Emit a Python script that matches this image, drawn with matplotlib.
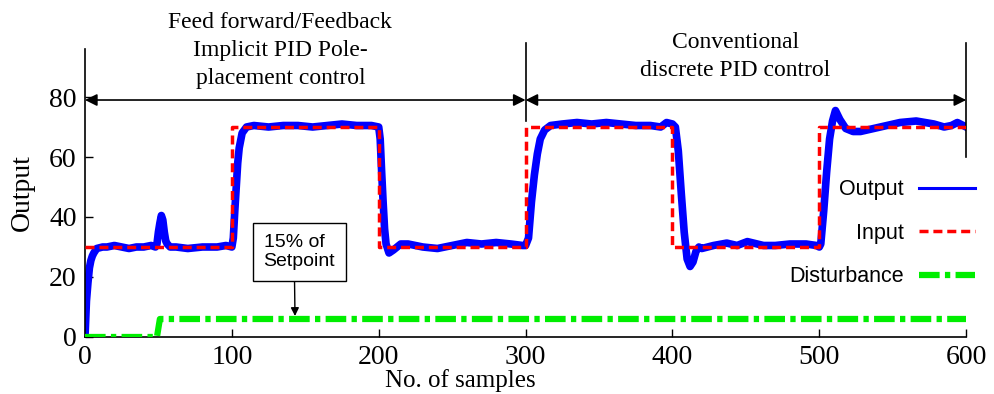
import matplotlib
matplotlib.use('Agg')
import matplotlib.pyplot as plt
from matplotlib.lines import Line2D

plt.rcParams['font.family'] = 'Liberation Serif'

# Output (sample index, value)
out_x = [0, 1, 2, 3, 4, 5, 6, 8, 12, 15, 20, 25, 30, 35, 40, 45, 48, 49, 50, 51, 52, 53, 54, 55, 56, 58,
         62, 70, 80, 90, 96, 100, 101, 102, 103, 104, 105, 107, 110, 115, 125, 135, 145, 155, 165, 175,
         185, 195, 200, 201, 202, 203, 204, 205, 207, 210, 215, 220, 230, 240, 250, 260, 270, 280, 290,
         298, 300, 302, 304, 306, 308, 310, 313, 317, 325, 335, 345, 355, 365, 375, 385, 392, 396, 400,
         402, 404, 406, 408, 410, 412, 414, 416, 418, 420, 428, 437, 444, 451, 462, 470, 480, 491, 498,
         500, 501, 503, 505, 507, 509, 511, 514, 518, 523, 528, 537, 546, 555, 566, 572, 578, 585, 590,
         594, 598, 600]
out_y = [0, 12, 18, 23, 25.5, 27, 28, 29.5, 30, 30, 30.5, 30, 29.5, 30, 30, 30.5, 30, 31, 35, 38, 40.5,
         39, 35, 32, 31, 30, 30, 29.5, 30, 30, 30.5, 30, 33, 42, 50, 58, 63, 68, 70, 70.5, 70, 70.5, 70.5,
         70, 70.5, 71, 70.5, 70.5, 70, 66, 55, 45, 36, 31, 28, 29, 31, 31, 30, 29.5, 30.5, 31.5, 31, 31.5,
         31, 30.5, 30.5, 33, 45, 54, 61, 66, 69, 70.5, 71, 71.5, 71, 71.5, 71, 70.5, 70.5, 70, 71.5, 71,
         70, 62, 48, 35, 26, 23.5, 25, 28.5, 30, 29.5, 30.5, 31.3, 30.5, 31.8, 30.5, 30.5, 31, 31, 30.5,
         30, 31, 42, 55, 66, 72, 75.5, 72.5, 69.5, 68.5, 68.5, 69.5, 70.5, 71.5, 72, 71.5, 71, 70, 70.5,
         71.5, 70.5, 70]

# Input (setpoint) steps
in_x = [0, 100, 200, 300, 400, 500, 600]
in_y = [30, 70, 30, 70, 30, 70, 70]

# Disturbance (15% of setpoint)
dist_x = [0, 49, 51, 600]
dist_y = [0, 0, 6, 6]

x_ticks = [0, 100, 200, 300, 400, 500, 600]
y_ticks = [0, 20, 40, 60, 80]

# control phases marked above the curves
phase_edges = [0, 300, 600]
phase_bar_low = [0, 72, 60]
phase_labels = ['Feed forward/Feedback\nImplicit PID Pole-\nplacement control',
                'Conventional\ndiscrete PID control']

dash_red = (0, (2.6, 1.4))
dash_green = (0, (3.3, 0.85, 0.85, 0.85))

fig, ax = plt.subplots(figsize=(9.94, 3.94), dpi=100)
fig.subplots_adjust(left=0.0855, right=0.972, bottom=0.1447, top=0.8756)

ax.plot(out_x, out_y, color='#0000ff', lw=5.5, solid_joinstyle='round', zorder=2)
ax.plot(in_x, in_y, color='#ff0000', lw=2.5, ls=dash_red, drawstyle='steps-post', zorder=3)
ax.plot(dist_x, dist_y, color='#00ee00', lw=4.5, ls=dash_green, zorder=3)

ax.set_xlim(0, 600)
ax.set_ylim(0, 96)
ax.set_xticks(x_ticks)
ax.set_yticks(y_ticks)
ax.tick_params(direction='in', length=6, width=1, labelsize=20, pad=6)
for s in ['top', 'right']:
    ax.spines[s].set_visible(False)
for s in ['left', 'bottom']:
    ax.spines[s].set_linewidth(1.2)

ax.set_xlabel('No. of samples', fontsize=18)
ax.xaxis.set_label_coords(0.426, -0.11)
ax.set_ylabel('Output', fontsize=20)
ax.yaxis.set_label_coords(-0.057, 0.5)

# phase markers: vertical bars + double arrows
for xe, lo in zip(phase_edges[1:], phase_bar_low[1:]):
    ax.plot([xe, xe], [lo, 98], color='black', lw=1.2, clip_on=False)
for a, b in zip(phase_edges[:-1], phase_edges[1:]):
    ax.annotate('', xy=(a, 79), xytext=(b, 79),
                arrowprops=dict(arrowstyle='<|-|>', color='black', lw=1.2,
                                mutation_scale=18, shrinkA=0, shrinkB=0))
ax.text(133, 95.5, phase_labels[0], ha='center', va='center', fontsize=17, linespacing=1.45)
ax.text(443, 93.5, phase_labels[1], ha='center', va='center', fontsize=17, linespacing=1.4)

ax.annotate('15% of\nSetpoint', xy=(143, 7), xytext=(146, 28.3), ha='center', va='center',
            multialignment='left', fontsize=14, family='Liberation Sans',
            bbox=dict(boxstyle='square,pad=0.55', fc='white', ec='black', lw=1),
            arrowprops=dict(arrowstyle='-|>', color='black', lw=1, mutation_scale=12,
                            relpos=(0.43, 0), shrinkA=0, shrinkB=0))

handles = [Line2D([], [], color='#0000ff', lw=2.2),
           Line2D([], [], color='#ff0000', lw=2.5, ls=dash_red),
           Line2D([], [], color='#00ee00', lw=4.5, ls=dash_green)]
fig.legend(handles, ['Output', 'Input', 'Disturbance'], loc='upper right',
           bbox_to_anchor=(0.981, 0.545), frameon=False, markerfirst=False,
           prop={'family': 'Liberation Sans', 'size': 15.5}, handlelength=2.6,
           handletextpad=0.7, labelspacing=1.05, borderpad=0, borderaxespad=0)

fig.savefig('out.png', dpi=100)
